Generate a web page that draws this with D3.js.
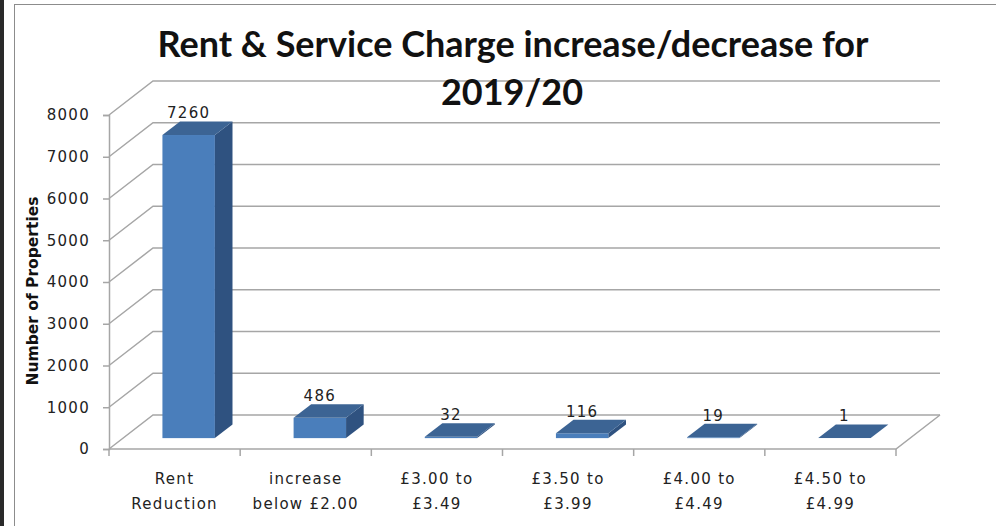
<!DOCTYPE html>
<html>
<head>
<meta charset="utf-8">
<script src="https://cdn.jsdelivr.net/npm/d3@7"></script>
<style>
  body { margin: 0; background: #fff; }
</style>
</head>
<body>
<div id="grafico"></div>
<script>
const categorias = [
  ["Rent", "Reduction"],
  ["increase", "below £2.00"],
  ["£3.00 to", "£3.49"],
  ["£3.50 to", "£3.99"],
  ["£4.00 to", "£4.49"],
  ["£4.50 to", "£4.99"]
];
const valores = [7260, 486, 32, 116, 19, 1];
const ticks = [0, 1000, 2000, 3000, 4000, 5000, 6000, 7000, 8000];

const width = 996;
const height = 526;

// front plane of the 3D box, plus depth offset
const x0 = 109, x1 = 896;
const yBase = 449, yTop = 115;
const DX = 44, DY = 34;
const f1 = 0.32, f2 = 0.72;   // bar front/back depth fraction

const svg = d3.select("#grafico")
              .append("svg")
              .attr("width", width)
              .attr("height", height)
              .style("font-family", "DejaVu Sans, sans-serif");

// frame
svg.append("rect").attr("x", 0).attr("y", 0).attr("width", 4).attr("height", height).attr("fill", "#2a2a2a");
svg.append("rect")
   .attr("x", 14.5).attr("y", 4.5)
   .attr("width", width).attr("height", height)
   .attr("fill", "none").attr("stroke", "#8c8c8c");

const idx = d3.range(valores.length);

const xScale = d3.scaleBand()
                 .domain(idx)
                 .range([x0, x1])
                 .padding(0);

const yScale = d3.scaleLinear()
                 .domain([0, 8000])
                 .range([yBase, yTop]);

const grid = "#a6a6a6";

// side wall diagonals + back wall gridlines
const g = svg.append("g").attr("stroke", grid).attr("stroke-width", 1.5).attr("fill", "none");
ticks.forEach(t => {
  const y = yScale(t);
  g.append("path").attr("d", `M${x0},${y} L${x0 + DX},${y - DY} L${x1 + DX},${y - DY}`);
});
// floor front edge and right edge
g.append("path").attr("d", `M${x0},${yBase} L${x1},${yBase} L${x1 + DX},${yBase - DY}`);

// axes
const yAxis = d3.axisLeft(yScale).tickValues(ticks).tickFormat(d3.format("d")).tickSize(6).tickPadding(13);
const ya = svg.append("g").attr("transform", `translate(${x0},0)`).call(yAxis);
ya.attr("font-family", null).attr("font-size", null);
ya.select(".domain").attr("stroke", grid).attr("stroke-width", 1.5);
ya.selectAll(".tick line").attr("stroke", grid).attr("stroke-width", 1.5);
ya.selectAll(".tick text")
  .style("font-size", "15px").style("letter-spacing", "1.3px")
  .attr("fill", "#222");

// category ticks
svg.append("g")
   .selectAll("line")
   .data(idx.concat([idx.length]))
   .join("line")
   .attr("x1", d => d < idx.length ? xScale(d) : x1)
   .attr("x2", d => d < idx.length ? xScale(d) : x1)
   .attr("y1", yBase).attr("y2", yBase + 7)
   .attr("stroke", grid).attr("stroke-width", 1.5);

// category labels
const lab = svg.append("g")
   .selectAll("text")
   .data(idx)
   .join("text")
   .attr("text-anchor", "middle")
   .attr("fill", "#222")
   .style("font-size", "15px")
   .style("letter-spacing", "1.3px");
lab.append("tspan").attr("x", d => xScale(d) + xScale.bandwidth() / 2).attr("y", 484).text(d => categorias[d][0]);
lab.append("tspan").attr("x", d => xScale(d) + xScale.bandwidth() / 2).attr("y", 509).text(d => categorias[d][1]);

// bars
const barW = xScale.bandwidth() * 0.4;
const cx = d => xScale(d) + xScale.bandwidth() / 2 + f1 * DX;
const ddx = (f2 - f1) * DX, ddy = (f2 - f1) * DY;

const bars = svg.append("g").selectAll("g").data(idx).join("g");

bars.append("rect")
    .attr("x", d => cx(d) - barW / 2)
    .attr("y", d => yScale(valores[d]) - f1 * DY)
    .attr("width", barW)
    .attr("height", d => yScale(0) - yScale(valores[d]))
    .attr("fill", "#4a7ebb");

bars.append("path")
    .attr("fill", "#2f5280")
    .attr("d", d => {
      const xr = cx(d) + barW / 2;
      const yt = yScale(valores[d]) - f1 * DY, yb = yScale(0) - f1 * DY;
      return `M${xr},${yt} L${xr + ddx},${yt - ddy} L${xr + ddx},${yb - ddy} L${xr},${yb} Z`;
    });

bars.append("path")
    .attr("fill", "#3c6494")
    .attr("d", d => {
      const xl = cx(d) - barW / 2, xr = cx(d) + barW / 2;
      const yt = yScale(valores[d]) - f1 * DY;
      return `M${xl},${yt} L${xr},${yt} L${xr + ddx},${yt - ddy} L${xl + ddx},${yt - ddy} Z`;
    });

// value labels
bars.append("text")
    .attr("x", d => cx(d))
    .attr("y", d => yScale(valores[d]) - f1 * DY - ddy - 3)
    .attr("text-anchor", "middle")
    .attr("fill", "#222")
    .style("font-size", "15px")
    .style("letter-spacing", "1.3px")
    .text(d => valores[d]);

// y title
svg.append("text")
   .attr("transform", "translate(38, 291) rotate(-90)")
   .attr("text-anchor", "middle")
   .attr("fill", "#111")
   .style("font-weight", "bold")
   .style("font-size", "15.5px")
   .text("Number of Properties");

// title
const title = svg.append("text")
   .attr("text-anchor", "middle")
   .attr("fill", "#111")
   .style("font-family", "Lato")
   .style("font-weight", "bold")
   .style("font-size", "36px");
title.append("tspan").attr("x", 513).attr("y", 57).text("Rent & Service Charge increase/decrease for");
title.append("tspan").attr("x", 512).attr("y", 105).text("2019/20");
</script>
</body>
</html>
